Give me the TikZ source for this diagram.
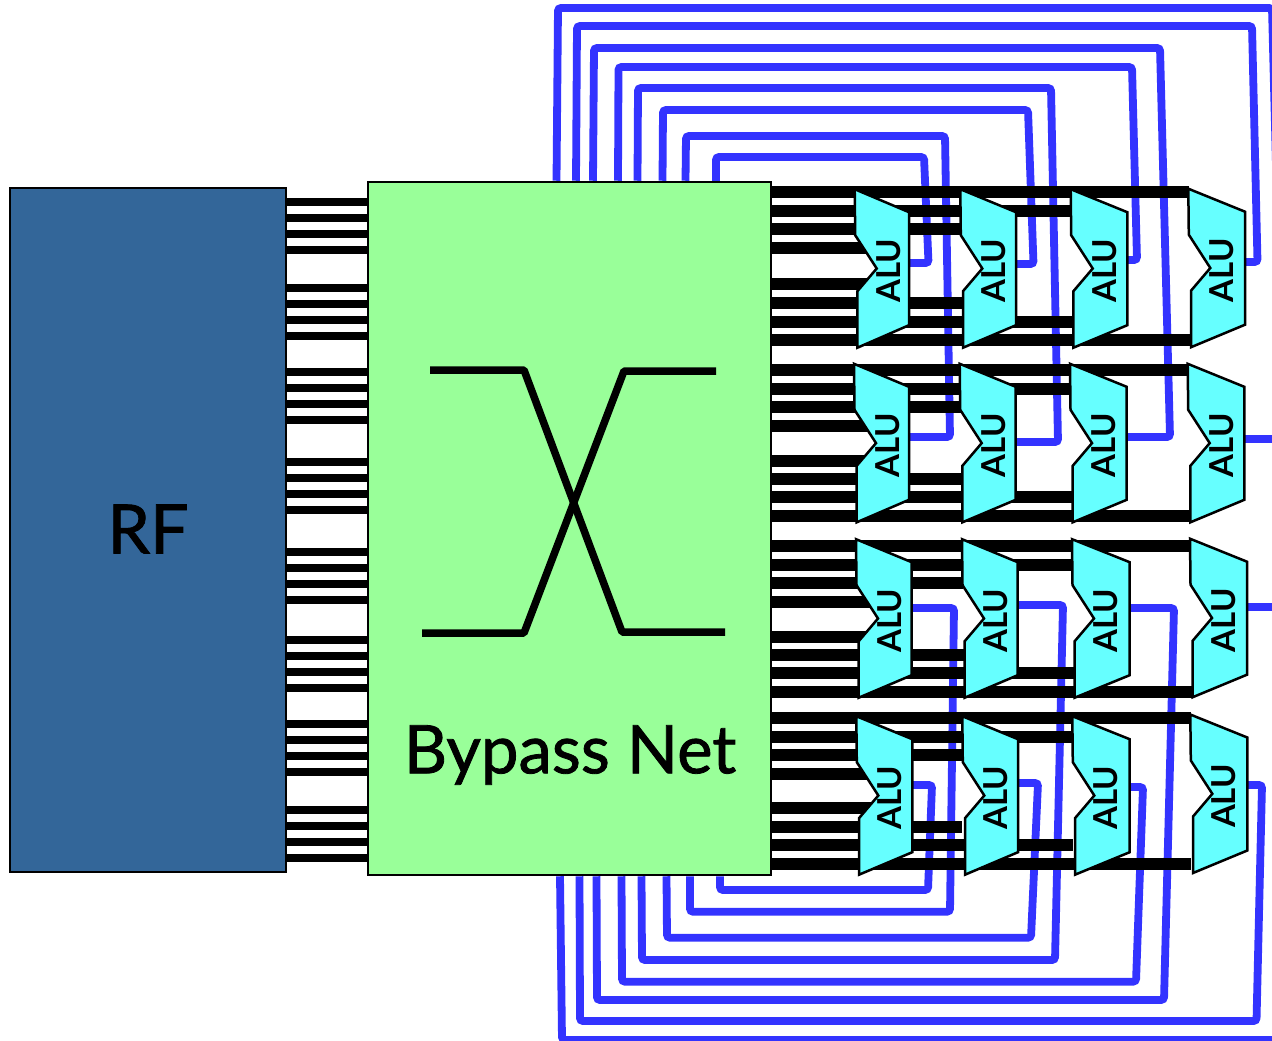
\documentclass[tikz,border=0pt]{standalone}
\usepackage{fontspec}
\setmainfont{Lato}
\newfontfamily\labelfont[FakeBold=1.2]{Lato}
\pgfdeclarelayer{bluelayer}
\pgfdeclarelayer{barlayer}
\pgfsetlayers{bluelayer,barlayer,main}
\definecolor{rfblue}{HTML}{336699}
\definecolor{netgreen}{HTML}{99FF99}
\definecolor{alucyan}{HTML}{66FFFF}
\definecolor{loopblue}{HTML}{3333FF}
\tikzset{
  block/.style={draw=black,line width=2.5pt,inner sep=0pt,text=black},
  rfbar/.style={line width=8pt,black},
  alubar/.style={line width=12pt,black},
  loopline/.style={line width=7.8pt,loopblue,rounded corners=3pt},
  aluface/.style={draw=black,line width=2.5pt,fill=alucyan,line join=miter},
  alutext/.style={rotate=90,inner sep=0pt,font=\fontsize{33}{33}\selectfont\bfseries},
  crossline/.style={line width=7.5pt,black,line join=bevel},
}
% name, x, y of the upper left corner, width
\newcommand{\aluunit}[4]{%
  \begin{scope}[shift={(#2,#3)}]
    \draw[aluface] (-1,-1.5) -- (#4,21.5) -- (#4,134.5) -- (1.7,157) -- (1.7,100.5)
       -- (21,77.8) -- (-0.5,44.5) -- cycle;
    \coordinate (#1-u) at (0,40);
    \coordinate (#1-n) at (15,78);
    \coordinate (#1-d) at (2.2,120);
    \coordinate (#1-r) at (#4-2,78);
    \node[alutext] (#1) at (32.5,80) {ALU};
  \end{scope}}
% row number, eight y values
\newcommand{\rowbars}[9]{%
  \draw[alubar] (bypass.east |- 0,#2) -- (a#14-u |- 0,#2);
  \draw[alubar] (bypass.east |- 0,#3) -- (a#13-u |- 0,#3);
  \draw[alubar] (bypass.east |- 0,#4) -- (a#12-u |- 0,#4);
  \draw[alubar] (bypass.east |- 0,#5) -- (a#11-n |- 0,#5);
  \draw[alubar] (bypass.east |- 0,#6) -- (a#11-n |- 0,#6);
  \draw[alubar] (bypass.east |- 0,#7) -- (a#12-d |- 0,#7);
  \draw[alubar] (bypass.east |- 0,#8) -- (a#13-d |- 0,#8);
  \draw[alubar] (bypass.east |- 0,#9) -- (a#14-d |- 0,#9);}
\begin{document}
\begin{tikzpicture}[x=1pt,y=-1pt]
\useasboundingbox (0,0) rectangle (1272,1041);
\begin{pgfonlayer}{bluelayer}
\fill[white] (0,0) rectangle (1272,1041);
\end{pgfonlayer}

\node[block,fill=rfblue,minimum width=276pt,minimum height=684pt,font=\labelfont\fontsize{68}{68}\selectfont] (rf) at (148,530) {\raisebox{2pt}{RF}};
\node[block,fill=netgreen,minimum width=403pt,minimum height=693pt] (bypass) at (569.5,528.5) {};
\node[inner sep=0pt,font=\labelfont\fontsize{67}{67}\selectfont] (nettext) at (570,755) {Bypass Net};
\draw[crossline] (430,370) -- (524,370) -- (622,632) -- (725,632);
\draw[crossline] (422,633) -- (524,633) -- (624,371) -- (716,371);

\aluunit{a11}{855.7}{190.7}{53.3}
\aluunit{a12}{961.3}{190.7}{54.7}
\aluunit{a13}{1071.7}{190.7}{55.6}
\aluunit{a14}{1189.3}{190.2}{55.7}
\aluunit{a21}{855}{365.3}{54}
\aluunit{a22}{960.7}{365.3}{55}
\aluunit{a23}{1071}{365.3}{55.7}
\aluunit{a24}{1188.7}{365.3}{55.6}
\aluunit{a31}{857}{540.7}{54.7}
\aluunit{a32}{963}{540.7}{54.7}
\aluunit{a33}{1073}{540.7}{56.7}
\aluunit{a34}{1191}{540.2}{56}
\aluunit{a41}{857.3}{717.7}{55}
\aluunit{a42}{963.3}{717.7}{54.7}
\aluunit{a43}{1073.3}{717.7}{56.4}
\aluunit{a44}{1191.3}{716}{56}

\begin{pgfonlayer}{barlayer}
  \foreach \yy in {201.7,217.7,233.7,249.7,287.7,303.7,319.7,335.7,371.7,387.7,403.7,419.7,
                   461.7,477.7,493.7,509.7,551.7,567.7,583.7,599.7,639.7,655.7,671.7,687.7,
                   723.7,739.7,755.7,771.7,809.7,825.7,841.7,857.7}
    \draw[rfbar] (rf.east |- 0,\yy) -- (bypass.west |- 0,\yy);
  \rowbars{1}{192}{210.7}{229.3}{248}{284.3}{303}{321.7}{340}
  \rowbars{2}{370}{388.7}{407.3}{426}{460.7}{479}{497.3}{516}
  \rowbars{3}{546}{565}{583.3}{602}{636.7}{655}{673.3}{692}
  \draw[alubar] (bypass.east |- 0,718.3) -- (a44-u |- 0,718.3);
  \draw[alubar] (bypass.east |- 0,736.7) -- (a43-u |- 0,736.7);
  \draw[alubar] (bypass.east |- 0,755) -- (a42-u |- 0,755);
  \draw[alubar] (bypass.east |- 0,773.7) -- (a41-n |- 0,773.7);
  \draw[alubar] (bypass.east |- 0,808.3) -- (a41-n |- 0,808.3);
  \draw[alubar] (bypass.east |- 0,826.7) -- ([xshift=-3.5pt]a42-d |- 0,826.7);
  \draw[alubar] (bypass.east |- 0,845.3) -- ([xshift=-3pt]a43-d |- 0,845.3);
  \draw[alubar] (bypass.east |- 0,864) -- ([xshift=-2.5pt]a44-d |- 0,864);
\end{pgfonlayer}

\begin{pgfonlayer}{bluelayer}
  % upper loops
  \draw[loopline] (bypass.north -| 556.5,0) -- (558,8) -- (1272,8) -- (1276,165);
  \draw[loopline] (a14-r |- 0,262) -- (1257.5,262) -- (1252,26) -- (577,26) -- (bypass.north -| 576,0);
  \draw[loopline] (a23-r |- 0,437) -- (1170,437) -- (1160,48) -- (594,48) -- (bypass.north -| 593,0);
  \draw[loopline] (a13-r |- 0,260) -- (1137,260) -- (1132,67) -- (618.5,67) -- (bypass.north -| 618,0);
  \draw[loopline] (a22-r |- 0,442) -- (1058,442) -- (1051,88) -- (638,88) -- (bypass.north -| 637.5,0);
  \draw[loopline] (a12-r |- 0,264) -- (1033.5,264) -- (1028,110) -- (663,110) -- (bypass.north -| 662.5,0);
  \draw[loopline] (a21-r |- 0,437) -- (950,437) -- (945,136) -- (686,136) -- (bypass.north -| 685.5,0);
  \draw[loopline] (a11-r |- 0,263) -- (928.5,263) -- (924,157) -- (716,157) -- (bypass.north -| 716,0);
  \draw[loopline] (a24-r |- 0,439) -- (1272,439);
  \draw[loopline] (a34-r |- 0,607) -- (1272,607);
  % lower loops
  \draw[loopline] (bypass.south -| 560,0) -- (562,1040) -- (1272,1040);
  \draw[loopline] (a44-r |- 0,785) -- (1262,785) -- (1256.5,1021) -- (580,1021) -- (bypass.south -| 579.5,0);
  \draw[loopline] (a33-r |- 0,608) -- (1174,608) -- (1164,1000) -- (597,1000) -- (bypass.south -| 596.5,0);
  \draw[loopline] (a43-r |- 0,787) -- (1143,787) -- (1136,981.7) -- (622,981.7) -- (bypass.south -| 621.5,0);
  \draw[loopline] (a32-r |- 0,605) -- (1063,605) -- (1055,960) -- (642,960) -- (bypass.south -| 641.5,0);
  \draw[loopline] (a42-r |- 0,783) -- (1038,783) -- (1031,937.7) -- (667,937.7) -- (bypass.south -| 666.5,0);
  \draw[loopline] (a31-r |- 0,608) -- (954,608) -- (950,911.7) -- (690,911.7) -- (bypass.south -| 690,0);
  \draw[loopline] (a41-r |- 0,785) -- (932,785) -- (928,890) -- (720,890) -- (bypass.south -| 720,0);
\end{pgfonlayer}
\end{tikzpicture}
\end{document}
